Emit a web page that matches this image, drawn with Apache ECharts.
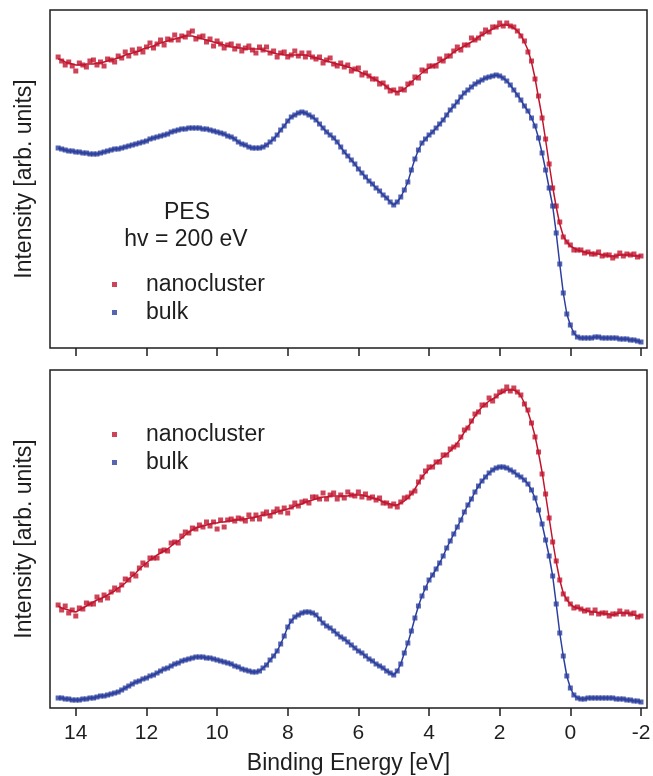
<!DOCTYPE html>
<html>
<head>
<meta charset="utf-8">
<script src="https://cdn.jsdelivr.net/npm/echarts@6/dist/echarts.min.js"></script>
<style>
html, body { margin: 0; padding: 0; background: #fff; }
#main { width: 653px; height: 776px; }
</style>
</head>
<body>
<div id="main"></div>
<script>
// sampling grid of the spectra (binding energy, eV)
var E_START = 14.5, E_STEP = 0.1, N_PTS = 166;
var xTicks = [14, 12, 10, 8, 6, 4, 2, 0, -2];
var seriesNames = ['nanocluster', 'bulk'];

// top panel, nanocluster: measured points and fit
var topRedPts = [
    291,287,283,286,282,277,285,283,281,287,
    288,283,286,282,289,288,286,292,290,296,
    292,298,295,299,296,301,305,300,304,308,
    303,309,308,313,308,312,311,315,317,309,
    311,312,306,309,302,307,304,300,303,304,
    299,302,297,300,302,298,295,301,298,301,
    295,297,291,295,296,291,293,297,292,295,
    291,295,291,289,291,285,288,290,284,282,
    285,281,283,277,279,280,273,275,272,269,
    269,264,265,261,257,258,255,259,258,264,
    265,271,270,278,277,282,282,282,289,287,
    292,292,297,301,298,303,303,310,308,310,
    314,318,316,321,321,325,322,325,322,321,
    317,312,307,296,287,269,252,230,209,184,
    160,142,126,111,106,103,98,98,98,95,
    96,94,94,96,92,93,93,90,92,95,
    92,94,93,94,91,92
];
var topRedFit = [
    289,288,286,285,284,283,283,283,284,284,
    284,285,285,286,287,288,289,290,291,293,
    294,295,296,297,299,300,301,302,304,305,
    306,307,308,309,310,311,312,312,312,311,
    310,309,308,307,306,305,304,303,302,301,
    301,300,300,299,299,299,299,299,298,297,
    296,295,294,294,293,293,293,293,293,293,
    293,292,291,290,289,288,287,286,285,284,
    283,282,281,280,278,277,275,274,272,270,
    268,266,264,261,259,257,256,257,259,262,
    266,269,272,275,278,280,282,284,286,288,
    290,293,296,298,300,302,304,306,308,311,
    313,315,317,319,321,322,323,323,322,320,
    317,313,306,298,286,270,250,231,208,184,
    161,141,124,112,106,102,100,98,97,96,
    95,95,94,94,93,93,92,92,92,93,
    93,93,93,92,92,92
];
// top panel, bulk
var topBlue = [
    200,199,198,197,197,196,196,195,195,194,
    194,194,195,196,197,198,199,199,200,201,
    202,203,204,205,206,207,209,210,211,212,
    213,214,216,217,218,219,219,220,220,220,
    220,219,219,218,217,216,215,214,212,211,
    209,206,204,203,201,200,200,200,201,203,
    206,209,213,218,222,227,231,233,235,236,
    235,233,231,228,224,220,216,213,210,206,
    201,196,192,188,184,179,175,171,167,164,
    160,157,153,150,146,143,146,151,158,166,
    178,189,198,205,209,213,216,220,224,228,
    233,238,242,246,251,255,258,261,264,266,
    268,270,271,272,273,272,270,267,263,258,
    253,248,242,237,230,222,210,195,178,160,
    142,115,84,55,34,23,15,11,10,10,
    10,10,11,11,10,10,10,10,10,9,
    9,9,8,8,7,6
];
// bottom panel, nanocluster: measured points and fit
var botRedPts = [
    103,98,102,95,98,92,100,99,105,104,
    104,111,108,113,110,116,120,118,123,129,
    128,134,132,140,145,143,150,150,150,157,
    158,157,165,166,165,172,176,175,180,179,
    183,181,186,182,186,179,188,181,188,189,
    187,190,189,187,193,189,193,189,194,196,
    192,196,199,196,200,195,201,205,202,206,
    207,205,211,211,209,215,209,213,215,209,
    213,210,216,213,212,216,211,214,210,211,
    208,210,205,205,202,204,201,206,210,211,
    215,217,226,231,237,241,241,246,246,253,
    253,259,261,263,271,278,280,287,294,296,
    303,303,310,307,312,316,317,321,317,320,
    316,313,304,298,285,271,256,234,214,190,
    166,147,128,114,109,104,100,101,99,97,
    98,95,98,94,95,95,92,94,94,97,
    94,96,94,95,91,92
];
var botRedFit = [
    102,100,99,98,97,96,98,100,102,104,
    106,108,109,111,113,115,117,120,122,125,
    129,132,135,139,142,145,148,150,153,155,
    157,159,162,165,167,170,173,176,178,180,
    181,182,183,184,185,185,186,186,187,187,
    188,188,189,189,190,190,191,192,193,193,
    194,195,196,197,198,199,200,202,203,204,
    206,207,208,209,210,211,211,212,212,212,
    212,212,212,213,213,213,213,212,211,210,
    209,208,206,205,204,203,203,205,207,210,
    214,219,225,231,235,239,242,245,248,251,
    254,257,261,265,270,276,281,286,292,297,
    301,304,307,309,311,314,316,318,318,318,
    316,312,305,296,285,272,255,236,213,190,
    167,146,128,115,108,104,101,100,99,98,
    97,96,96,95,95,94,94,93,94,95,
    95,95,94,93,92,92
];
// bottom panel, bulk
var botBlue = [
    10,10,9,9,8,8,8,9,9,10,
    10,11,12,12,13,14,15,16,18,20,
    22,24,26,27,29,30,32,33,35,37,
    39,40,42,44,45,47,48,49,50,51,
    51,51,50,50,49,48,47,46,45,44,
    42,41,39,38,37,36,36,37,40,43,
    48,52,57,64,72,81,87,91,93,95,
    96,96,95,93,89,85,82,80,77,74,
    71,69,66,63,60,57,55,52,49,47,
    44,42,40,37,35,33,37,44,55,65,
    77,90,102,112,120,128,133,139,145,152,
    160,167,174,181,188,196,203,209,216,222,
    227,231,235,238,240,241,241,240,238,236,
    233,231,228,224,218,210,198,184,168,152,
    132,104,75,52,32,20,13,10,9,9,
    10,10,10,10,10,10,10,10,9,9,
    9,8,8,7,7,6
];

var RED = '#c1142e';
var BLUE = '#2c3f9e';
var INK = '#1e1e1e';
var FONT = '"Liberation Sans", Arial, Helvetica, sans-serif';

var energy = [];
for (var i = 0; i < N_PTS; i++) {
    energy.push(+(E_START - E_STEP * i).toFixed(1));
}

function pairs(vals) {
    return vals.map(function (v, i) { return [energy[i], v]; });
}

function xAxisFor(idx, withLabels) {
    return {
        gridIndex: idx,
        type: 'value',
        min: -2.17,
        max: 14.73,
        inverse: true,
        axisLine: { show: false },
        splitLine: { show: false },
        axisTick: {
            show: true, length: 8, customValues: xTicks,
            lineStyle: { color: INK, width: 1.5 }
        },
        axisLabel: {
            show: withLabels, customValues: xTicks, margin: 15,
            fontSize: 21, color: INK, fontFamily: FONT
        },
        name: withLabels ? 'Binding Energy [eV]' : '',
        nameLocation: 'middle',
        nameGap: 44,
        nameTextStyle: { fontSize: 23, color: INK, fontFamily: FONT }
    };
}

function yAxisFor(idx) {
    return {
        gridIndex: idx,
        type: 'value',
        min: 0,
        max: 338,
        axisLine: { show: false },
        axisTick: { show: false },
        axisLabel: { show: false },
        splitLine: { show: false },
        name: 'Intensity [arb. units]',
        nameLocation: 'middle',
        nameGap: 14,
        nameTextStyle: { fontSize: 23, color: INK, fontFamily: FONT }
    };
}

function pointSeries(name, idx, vals, color) {
    return {
        name: name, type: 'scatter',
        xAxisIndex: idx, yAxisIndex: idx,
        symbol: 'rect', symbolSize: 5,
        itemStyle: { color: color },
        data: pairs(vals), z: 3
    };
}

function fitSeries(idx, vals, color) {
    return {
        type: 'line',
        xAxisIndex: idx, yAxisIndex: idx,
        showSymbol: false, symbol: 'none',
        lineStyle: { color: color, width: 1.5 },
        data: pairs(vals), z: 2
    };
}

function legendAt(top) {
    return {
        data: seriesNames,
        orient: 'vertical',
        left: 107,
        top: top,
        icon: 'rect',
        itemWidth: 5,
        itemHeight: 5,
        itemGap: 5,
        textStyle: { fontSize: 23, color: INK, fontFamily: FONT, padding: [0, 0, 0, 24] }
    };
}

var chart = echarts.init(document.getElementById('main'));
var frame = {
    show: true, borderColor: INK, borderWidth: 1.5,
    backgroundColor: 'transparent', outerBoundsMode: 'none', containLabel: false
};

chart.setOption({
    animation: false,
    backgroundColor: '#fff',
    grid: [
        Object.assign({ left: 50, top: 10, width: 597, height: 338 }, frame),
        Object.assign({ left: 50, top: 370, width: 597, height: 338 }, frame)
    ],
    xAxis: [xAxisFor(0, false), xAxisFor(1, true)],
    yAxis: [yAxisFor(0), yAxisFor(1)],
    legend: [legendAt(268), legendAt(418)],
    graphic: [
        { type: 'text', x: 187, y: 213,
          style: { text: 'PES', align: 'center', verticalAlign: 'middle', fontSize: 23, fontFamily: FONT, fill: INK } },
        { type: 'text', x: 186, y: 240,
          style: { text: 'hv = 200 eV', align: 'center', verticalAlign: 'middle', fontSize: 23, fontFamily: FONT, fill: INK } }
    ],
    series: [
        fitSeries(0, topRedFit, RED),
        fitSeries(0, topBlue, BLUE),
        pointSeries('nanocluster', 0, topRedPts, RED),
        pointSeries('bulk', 0, topBlue, BLUE),
        fitSeries(1, botRedFit, RED),
        fitSeries(1, botBlue, BLUE),
        pointSeries('nanocluster', 1, botRedPts, RED),
        pointSeries('bulk', 1, botBlue, BLUE)
    ]
});
</script>
</body>
</html>
